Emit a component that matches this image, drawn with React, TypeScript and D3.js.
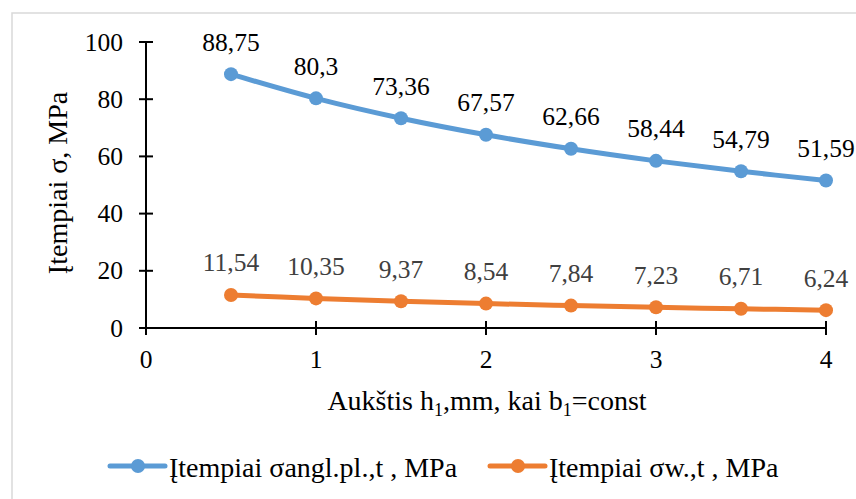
import React from "react";
import * as d3 from "d3";

const xValues = [0.5, 1, 1.5, 2, 2.5, 3, 3.5, 4];
const seriesAngl = [88.75, 80.3, 73.36, 67.57, 62.66, 58.44, 54.79, 51.59];
const seriesW = [11.54, 10.35, 9.37, 8.54, 7.84, 7.23, 6.71, 6.24];
const xTicks = [0, 1, 2, 3, 4];
const yTicks = [0, 20, 40, 60, 80, 100];
const seriesNames = ["Įtempiai σangl.pl.,t , MPa", "Įtempiai σw.,t , MPa"];

const W = 856;
const H = 499;
const TF = { fontFamily: '"Liberation Serif"' };
const TICK = 25.5;
const TITLE = 28;

export default function App() {
  const x = d3.scaleLinear().domain([0, 4]).range([146, 826]);
  const y = d3.scaleLinear().domain([0, 100]).range([328, 42]);
  const line = d3
    .line<number>()
    .x((_, i) => x(xValues[i]))
    .y((d) => y(d))
    .curve(d3.curveCatmullRom.alpha(0.5));
  const fmt = (v: number) => String(v).replace(".", ",");

  const series = [
    { vals: seriesAngl, color: "#5B9BD5", labelColor: "#000000" },
    { vals: seriesW, color: "#ED7D31", labelColor: "#404040" },
  ];

  return (
    <svg width={W} height={H} style={{ position: "absolute", left: 0, top: 0 }}>
      <rect x={0} y={0} width={W} height={H} fill="#fff" />
      <rect x={12} y={13} width={W} height={H} fill="#fff" stroke="#D9D9D9" strokeWidth={1.5} />

      {/* Y axis */}
      <line x1={x(0)} x2={x(0)} y1={y(100)} y2={y(0) + 7} stroke="#000" strokeWidth={2} />
      {yTicks.map((t) => (
        <g key={"y" + t}>
          <line x1={x(0) - 7} x2={x(0) + 7} y1={y(t)} y2={y(t)} stroke="#000" strokeWidth={2} />
          <text x={123} y={y(t)} dy="0.34em" textAnchor="end" fontSize={TICK} fill="#000" style={TF}>
            {t}
          </text>
        </g>
      ))}
      {/* X axis */}
      <line x1={x(0) - 7} x2={x(4)} y1={y(0)} y2={y(0)} stroke="#000" strokeWidth={2} />
      {xTicks.map((t) => (
        <g key={"x" + t}>
          <line x1={x(t)} x2={x(t)} y1={y(0) - 7} y2={y(0) + 7} stroke="#000" strokeWidth={2} />
          <text x={x(t)} y={y(0) + 40} textAnchor="middle" fontSize={TICK} fill="#000" style={TF}>
            {t}
          </text>
        </g>
      ))}

      {/* Axis titles */}
      <text x={487} y={410} textAnchor="middle" fontSize={TITLE} fill="#000" style={TF}>
        Aukštis h
        <tspan fontSize={18} dy={6}>1</tspan>
        <tspan dy={-6}>,mm, kai b</tspan>
        <tspan fontSize={18} dy={6}>1</tspan>
        <tspan dy={-6}>=const</tspan>
      </text>
      <text
        transform={`translate(67,183) rotate(-90)`}
        textAnchor="middle"
        fontSize={TITLE}
        fill="#000"
        style={TF}
      >
        Įtempiai σ, MPa
      </text>

      {/* Series */}
      {series.map((s, si) => (
        <g key={"s" + si}>
          <path d={line(s.vals) || ""} fill="none" stroke={s.color} strokeWidth={5} strokeLinecap="round" />
          {s.vals.map((v, i) => (
            <circle key={i} cx={x(xValues[i])} cy={y(v)} r={7} fill={s.color} />
          ))}
          {s.vals.map((v, i) => (
            <text
              key={"l" + i}
              x={x(xValues[i])}
              y={y(v) - 23.5}
              textAnchor="middle"
              fontSize={TICK}
              fill={s.labelColor}
              style={TF}
            >
              {fmt(v)}
            </text>
          ))}
        </g>
      ))}

      {/* Legend */}
      {series.map((s, si) => {
        const lx = si === 0 ? 110 : 490;
        const ly = 466;
        return (
          <g key={"lg" + si}>
            <line x1={lx} x2={lx + 55} y1={ly} y2={ly} stroke={s.color} strokeWidth={5} strokeLinecap="round" />
            <circle cx={lx + 28} cy={ly} r={7} fill={s.color} />
            <text x={lx + 59} y={477} fontSize={TITLE} fill="#000" style={TF}>
              {seriesNames[si]}
            </text>
          </g>
        );
      })}
    </svg>
  );
}
